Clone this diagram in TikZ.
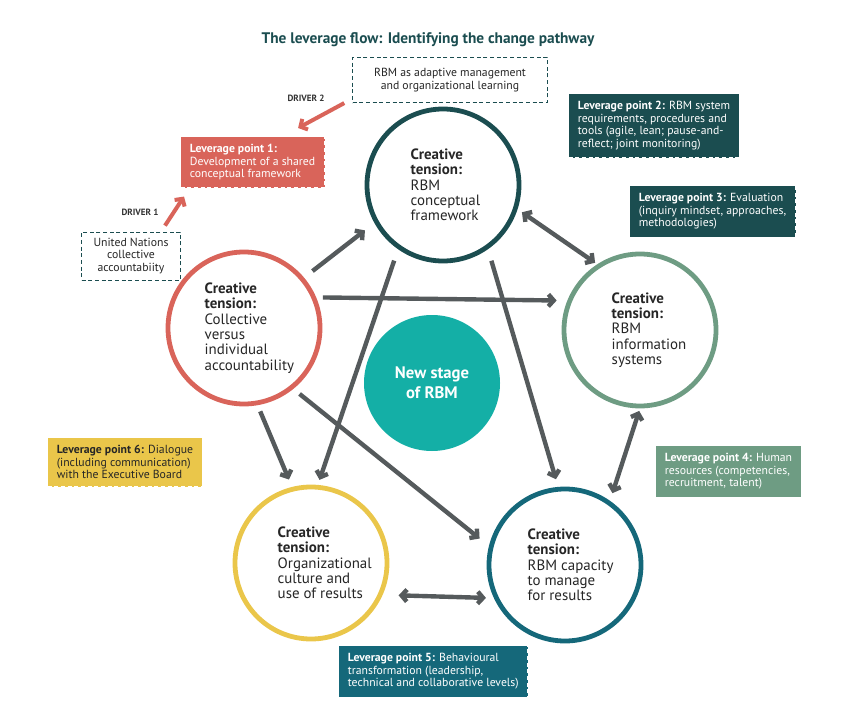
\documentclass[tikz,border=0pt]{standalone}
\usepackage{fontspec}
\setmainfont{PT Sans}
\usetikzlibrary{arrows.meta}
\definecolor{dteal}{HTML}{1B4D50}
\definecolor{cred}{HTML}{D9645A}
\definecolor{cgreen}{HTML}{6E9C83}
\definecolor{cyel}{HTML}{EAC64A}
\definecolor{cblue}{HTML}{15687A}
\definecolor{cteal}{HTML}{14AFA6}
\definecolor{agray}{HTML}{555A5C}
\tikzset{
 x=0.75pt,y=-0.75pt,
 ct/.style={circle,draw,line width=3.6pt,fill=white,minimum size=114pt,inner sep=0pt},
 cttext/.style={align=left,font=\fontsize{11.2}{11.5}\selectfont,text=black!85},
 lp/.style={draw=white,densely dashed,line width=0.8pt,inner xsep=7pt,inner ysep=6pt,align=left,font=\fontsize{8.8}{9.3}\selectfont,text=white,anchor=north west},
 obox/.style={draw=dteal,densely dashed,line width=0.6pt,fill=white,align=center,font=\fontsize{8.8}{9.5}\selectfont,text=black!85},
 garr/.style={draw=agray,line width=3.3pt,-{Straight Barb[length=4pt,width=9pt]}},
 gdarr/.style={draw=agray,line width=3.3pt,{Straight Barb[length=4pt,width=9pt]}-{Straight Barb[length=4pt,width=9pt]}},
 rarr/.style={draw=cred,line width=3pt,-{Straight Barb[length=4pt,width=9pt]}},
 drv/.style={font=\bfseries\fontsize{6.8}{7}\selectfont,text=black!80}
}
\begin{document}
\begin{tikzpicture}
\useasboundingbox (0,0) rectangle (848,716);
\node[font=\bfseries\fontsize{11.5}{12}\selectfont,text=dteal] (title) at (428,40) {The leverage flow: Identifying the change pathway};

\node[ct,draw=dteal] (t) at (443,185) {};
\node[cttext,anchor=west] at (406,185) {\textbf{Creative}\\\textbf{tension:}\\RBM\\conceptual\\framework};
\node[ct,draw=cred] (l) at (244,328) {};
\node[cttext,anchor=west] at (200,328) {\textbf{Creative}\\\textbf{tension:}\\Collective\\versus\\individual\\accountability};
\node[ct,draw=cgreen] (r) at (640,330) {};
\node[cttext,anchor=west] at (607,330) {\textbf{Creative}\\\textbf{tension:}\\RBM\\information\\systems};
\node[ct,draw=cyel] (bl) at (311,563) {};
\node[cttext,anchor=west] at (273,563) {\textbf{Creative}\\\textbf{tension:}\\Organizational\\culture and\\use of results};
\node[ct,draw=cblue] (br) at (565,565) {};
\node[cttext,anchor=west] at (523,565) {\textbf{Creative}\\\textbf{tension:}\\RBM capacity\\to manage\\for results};
\node[circle,fill=cteal,minimum size=102pt,inner sep=0pt,align=center,text=white,font=\bfseries\fontsize{12.5}{15}\selectfont] (c) at (432,383) {New stage\\of RBM};

% gray arrows
\draw[garr,shorten <=8pt,shorten >=9pt] (l.40) -- (t.209);
\draw[garr,shorten <=5pt,shorten >=8pt] (l.23) -- (r.158);
\draw[garr,shorten <=5pt,shorten >=6pt] (l.280) -- (bl.104);
\draw[garr,shorten <=6pt,shorten >=9pt] (l.309) -- (br.166);
\draw[garr,shorten <=9pt,shorten >=4pt] (t.235) -- (bl.85);
\draw[garr,shorten <=9pt,shorten >=6pt] (t.305) -- (br.95);
\draw[gdarr,shorten <=4pt,shorten >=2pt] (t.342) -- (r.123);
\draw[gdarr,shorten <=2pt,shorten >=6pt] (r.270) -- (br.55);
\draw[gdarr,shorten <=12pt,shorten >=6pt] (bl.336) -- (br.205);

% leverage boxes
\node[lp,fill=cred] (lp1) at (180,136) {\textbf{Leverage point 1:}\\Development of a shared\\conceptual framework};
\node[lp,fill=dteal] (lp2) at (568,93) {\textbf{Leverage point 2:} RBM system\\requirements, procedures and\\tools (agile, lean; pause-and-\\reflect; joint monitoring)};
\node[lp,fill=dteal] (lp3) at (629,185) {\textbf{Leverage point 3:} Evaluation\\(inquiry mindset, approaches,\\methodologies)};
\node[lp,fill=cgreen] (lp4) at (655,445) {\textbf{Leverage point 4:} Human\\resources (competencies,\\recruitment, talent)};
\node[lp,fill=cblue] (lp5) at (338,645) {\textbf{Leverage point 5:} Behavioural\\transformation (leadership,\\technical and collaborative levels)};
\node[lp,fill=cyel,text=black!85] (lp6) at (47,437) {\textbf{Leverage point 6:} Dialogue\\(including communication)\\with the Executive Board};

\node[obox,minimum width=146pt,minimum height=34pt] (rbm) at (450,80) {RBM as adaptive management\\and organizational learning};
\node[obox,minimum width=74pt,minimum height=36pt] (un) at (131,256) {United Nations\\collective\\accountabiity};

\node[drv] (d2) at (306,98) {DRIVER 2};
\node[drv] (d1) at (140,212) {DRIVER 1};
\draw[rarr] ([shift={(-8,0)}]rbm.south west) -- ([shift={(-27,-8)}]lp1.north east);
\draw[rarr] ([shift={(34,-6)}]un.north) -- ([shift={(4,8)}]lp1.south west);
\end{tikzpicture}
\end{document}
